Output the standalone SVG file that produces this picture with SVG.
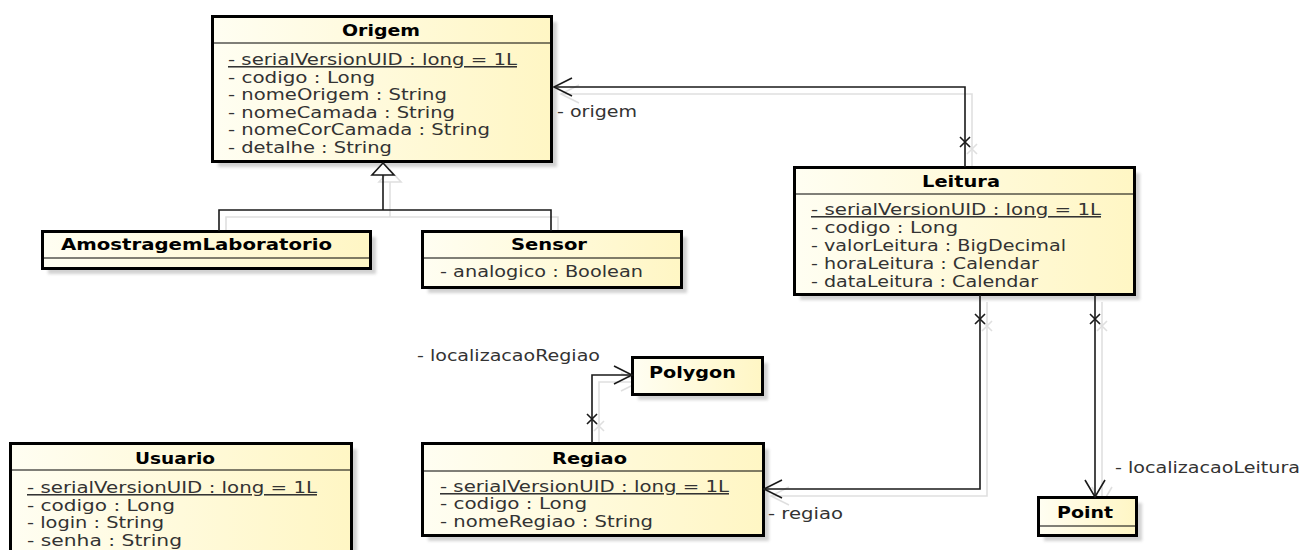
<svg xmlns="http://www.w3.org/2000/svg" xmlns:xlink="http://www.w3.org/1999/xlink" width="1303" height="550" viewBox="0 0 1303 550">
  <defs>
    <linearGradient id="classFill" x1="0" y1="0" x2="1" y2="0">
      <stop offset="0" stop-color="#fffef2"/>
      <stop offset="1" stop-color="#fff6c4"/>
    </linearGradient>
    <filter id="soft" x="-10%" y="-10%" width="120%" height="120%">
      <feGaussianBlur stdDeviation="1.5"/>
    </filter>
    <style>
      .box { fill: url(#classFill); stroke: #000; stroke-width: 3; }
      .shadow { fill: #d2d2d2; filter: url(#soft); }
      .sep { stroke: #000; stroke-width: 1; fill: none; }
      .title { font-family: "DejaVu Sans", Verdana, sans-serif; font-weight: bold; font-size: 15.5px; fill: #000; }
      .attr { font-family: "DejaVu Sans", Verdana, sans-serif; font-size: 15.5px; fill: #333; }
      .static { text-decoration: underline; }
      .lbl { font-family: "DejaVu Sans", Verdana, sans-serif; font-size: 15.5px; fill: #333; }
      #connectors path, #connectors polygon { stroke-width: 1.6; }
      #connectors path { fill: none; }
      #connectors polygon { fill: #fff; }
    </style>
  </defs>

  <rect width="1303" height="550" fill="#fff"/>

  <!-- soft drop shadow of the connector lines -->
  <use xlink:href="#connectors" href="#connectors" transform="translate(7,7)" stroke="#dcdcdc" opacity="0.9"/>

  <!-- Origem -->
  <g id="origem">
    <rect class="shadow" x="218" y="22" width="339" height="145"/>
    <rect class="box" x="212.5" y="16.5" width="339" height="145"/>
    <line class="sep" x1="212.5" y1="43" x2="551.5" y2="43"/>
    <text class="title" x="342" y="36" textLength="78" lengthAdjust="spacingAndGlyphs">Origem</text>
    <text class="attr static" x="228" y="65" textLength="289" lengthAdjust="spacingAndGlyphs">- serialVersionUID : long = 1L</text>
    <text class="attr" x="228" y="83" textLength="147" lengthAdjust="spacingAndGlyphs">- codigo : Long</text>
    <text class="attr" x="228" y="100" textLength="219" lengthAdjust="spacingAndGlyphs">- nomeOrigem : String</text>
    <text class="attr" x="228" y="118" textLength="227" lengthAdjust="spacingAndGlyphs">- nomeCamada : String</text>
    <text class="attr" x="228" y="135" textLength="262" lengthAdjust="spacingAndGlyphs">- nomeCorCamada : String</text>
    <text class="attr" x="228" y="153" textLength="164" lengthAdjust="spacingAndGlyphs">- detalhe : String</text>
  </g>

  <!-- AmostragemLaboratorio -->
  <g id="amostragemLaboratorio">
    <rect class="shadow" x="48" y="237" width="328" height="37"/>
    <rect class="box" x="42.5" y="231.5" width="328" height="37"/>
    <line class="sep" x1="42.5" y1="258" x2="370.5" y2="258"/>
    <text class="title" x="61" y="250" textLength="271" lengthAdjust="spacingAndGlyphs">AmostragemLaboratorio</text>
  </g>

  <!-- Sensor -->
  <g id="sensor">
    <rect class="shadow" x="428" y="237" width="259" height="56"/>
    <rect class="box" x="422.5" y="231.5" width="259" height="56"/>
    <line class="sep" x1="422.5" y1="258" x2="681.5" y2="258"/>
    <text class="title" x="511" y="250" textLength="76" lengthAdjust="spacingAndGlyphs">Sensor</text>
    <text class="attr" x="440" y="277" textLength="203" lengthAdjust="spacingAndGlyphs">- analogico : Boolean</text>
  </g>

  <!-- Leitura -->
  <g id="leitura">
    <rect class="shadow" x="800" y="173" width="340" height="127"/>
    <rect class="box" x="794.5" y="167.5" width="340" height="127"/>
    <line class="sep" x1="794.5" y1="194" x2="1134.5" y2="194"/>
    <text class="title" x="922" y="187" textLength="78" lengthAdjust="spacingAndGlyphs">Leitura</text>
    <text class="attr static" x="811" y="215" textLength="290" lengthAdjust="spacingAndGlyphs">- serialVersionUID : long = 1L</text>
    <text class="attr" x="811" y="233" textLength="147" lengthAdjust="spacingAndGlyphs">- codigo : Long</text>
    <text class="attr" x="811" y="251" textLength="255" lengthAdjust="spacingAndGlyphs">- valorLeitura : BigDecimal</text>
    <text class="attr" x="811" y="269" textLength="228" lengthAdjust="spacingAndGlyphs">- horaLeitura : Calendar</text>
    <text class="attr" x="811" y="287" textLength="227" lengthAdjust="spacingAndGlyphs">- dataLeitura : Calendar</text>
  </g>

  <!-- Polygon -->
  <g id="polygon">
    <rect class="shadow" x="638" y="363" width="130" height="37"/>
    <rect class="box" x="632.5" y="357.5" width="130" height="37"/>
    <text class="title" x="649" y="378" textLength="87" lengthAdjust="spacingAndGlyphs">Polygon</text>
  </g>

  <!-- Regiao -->
  <g id="regiao">
    <rect class="shadow" x="428" y="449" width="341" height="92"/>
    <rect class="box" x="422.5" y="443.5" width="341" height="92"/>
    <line class="sep" x1="422.5" y1="471" x2="763.5" y2="471"/>
    <text class="title" x="552" y="464" textLength="75" lengthAdjust="spacingAndGlyphs">Regiao</text>
    <text class="attr static" x="440" y="492" textLength="289" lengthAdjust="spacingAndGlyphs">- serialVersionUID : long = 1L</text>
    <text class="attr" x="440" y="509" textLength="147" lengthAdjust="spacingAndGlyphs">- codigo : Long</text>
    <text class="attr" x="440" y="527" textLength="213" lengthAdjust="spacingAndGlyphs">- nomeRegiao : String</text>
  </g>

  <!-- Usuario -->
  <g id="usuario">
    <rect class="shadow" x="16" y="449" width="341" height="120"/>
    <rect class="box" x="10.5" y="443.5" width="341" height="120"/>
    <line class="sep" x1="10.5" y1="470" x2="351.5" y2="470"/>
    <text class="title" x="135" y="464" textLength="80" lengthAdjust="spacingAndGlyphs">Usuario</text>
    <text class="attr static" x="27" y="493" textLength="290" lengthAdjust="spacingAndGlyphs">- serialVersionUID : long = 1L</text>
    <text class="attr" x="27" y="511" textLength="148" lengthAdjust="spacingAndGlyphs">- codigo : Long</text>
    <text class="attr" x="27" y="528" textLength="137" lengthAdjust="spacingAndGlyphs">- login : String</text>
    <text class="attr" x="27" y="546" textLength="155" lengthAdjust="spacingAndGlyphs">- senha : String</text>
  </g>

  <!-- Point -->
  <g id="point">
    <rect class="shadow" x="1044" y="503" width="98" height="38"/>
    <rect class="box" x="1038.5" y="497.5" width="98" height="38"/>
    <line class="sep" x1="1038.5" y1="526" x2="1136.5" y2="526"/>
    <text class="title" x="1057" y="518" textLength="56" lengthAdjust="spacingAndGlyphs">Point</text>
  </g>

  <!-- connectors: generalization and navigable associations -->
  <g stroke="#1a1a1a">
    <g id="connectors">
      <!-- AmostragemLaboratorio, Sensor -> Origem (generalization) -->
      <path d="M219,231 V210 H551 V231"/>
      <path d="M383,210 V175"/>
      <polygon points="383,163 372,175 394,175"/>
      <!-- Leitura -> Origem -->
      <path d="M965,167 V87 H554"/>
      <path d="M572,78 L554,87 L572,96"/>
      <path d="M960,137 L970,147 M970,137 L960,147"/>
      <!-- Regiao -> Polygon -->
      <path d="M592,443 V375 H632"/>
      <path d="M614,366 L632,375 L614,384"/>
      <path d="M587,414 L597,424 M597,414 L587,424"/>
      <!-- Leitura -> Regiao -->
      <path d="M980,295 V489 H764"/>
      <path d="M782,480 L764,489 L782,498"/>
      <path d="M975,314 L985,324 M985,314 L975,324"/>
      <!-- Leitura -> Point -->
      <path d="M1095,295 V497"/>
      <path d="M1085,480 L1095,497 L1105,480"/>
      <path d="M1090,314 L1100,324 M1100,314 L1090,324"/>
    </g>
  </g>

  <!-- association end names -->
  <g id="labels">
    <text class="lbl" x="557" y="117" textLength="80" lengthAdjust="spacingAndGlyphs">- origem</text>
    <text class="lbl" x="417" y="361" textLength="183" lengthAdjust="spacingAndGlyphs">- localizacaoRegiao</text>
    <text class="lbl" x="768" y="519" textLength="75" lengthAdjust="spacingAndGlyphs">- regiao</text>
    <text class="lbl" x="1115" y="473" textLength="185" lengthAdjust="spacingAndGlyphs">- localizacaoLeitura</text>
  </g>
</svg>
